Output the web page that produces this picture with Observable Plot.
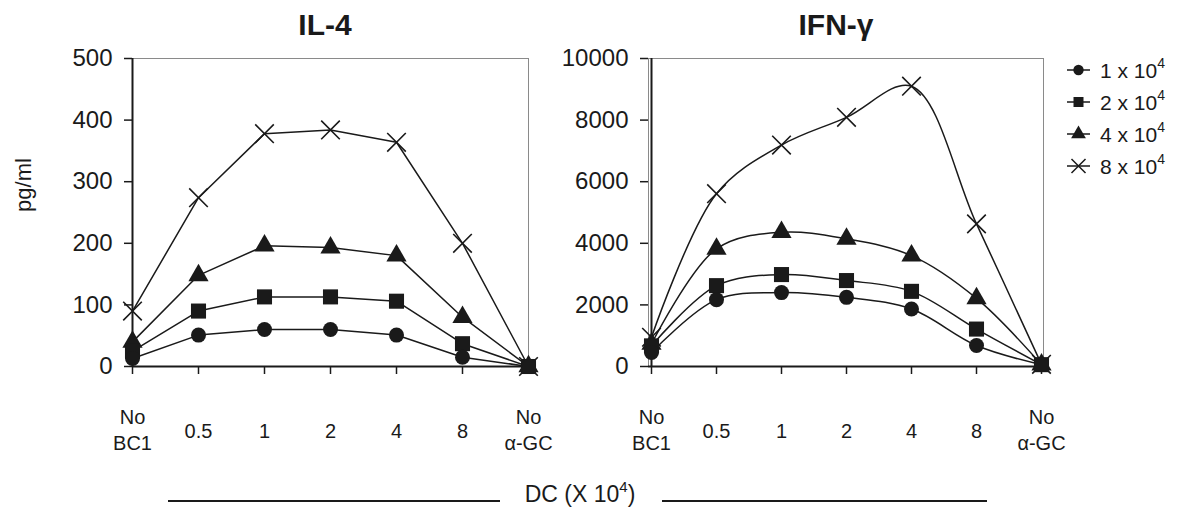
<!DOCTYPE html>
<html>
<head>
<meta charset="utf-8">
<script src="https://cdn.jsdelivr.net/npm/d3@7"></script>
<script src="https://cdn.jsdelivr.net/npm/@observablehq/plot@0.6"></script>
<style>
  html, body { margin: 0; padding: 0; background: #fff; }
  #wrap { position: relative; width: 1189px; height: 510px; overflow: hidden; font-family: "Liberation Sans", Arial, sans-serif; color: #1a1a1a; }
  .panel { position: absolute; top: 0; }
  #overlay { position: absolute; left: 0; top: 0; pointer-events: none; }
</style>
</head>
<body>
<div id="wrap"></div>
<script>
// ---------- data ----------
const categories = ["No BC1", "0.5", "1", "2", "4", "8", "No α-GC"];
const tickLabels = ["No\nBC1", "0.5", "1", "2", "4", "8", "No\nα-GC"];
const seriesBase = ["1 x 10", "2 x 10", "4 x 10", "8 x 10"];
const seriesExp = "4";
const seriesSymbols = ["circle", "square", "triangle", "times"];
const panelTitles = ["IL-4", "IFN-γ"];
const yLabel = "pg/ml";
const xLabelBase = "DC (X 10";
const il4Ticks = [0, 100, 200, 300, 400, 500];
const ifnTicks = [0, 2000, 4000, 6000, 8000, 10000];

// IL-4 (pg/ml)
const il4_1 = [13, 51, 60, 60, 51, 15, 0];
const il4_2 = [25, 90, 113, 113, 106, 37, 0];
const il4_4 = [40, 148, 196, 193, 180, 80, 0];
const il4_8 = [90, 274, 378, 384, 364, 200, 0];
// IFN-γ (pg/ml)
const ifn_1 = [455, 2170, 2400, 2245, 1865, 680, 60];
const ifn_2 = [670, 2625, 2985, 2790, 2440, 1215, 60];
const ifn_4 = [730, 3820, 4360, 4145, 3600, 2210, 60];
const ifn_8 = [950, 5610, 7190, 8090, 9100, 4630, 70];

// ---------- styles ----------
const ink = "#1a1a1a";
const markerR = [7.5, 8.5, 7.5, 8.5];
const font = "Liberation Sans, Arial, sans-serif";

function panel({values, yMax, ticks, width, marginLeft, marginRight, curve}) {
  const rows = [];
  values.forEach((arr, si) => arr.forEach((v, ci) => rows.push({s: si, cat: categories[ci], v})));
  const labels = categories.map((c, i) => ({cat: c, label: tickLabels[i], two: tickLabels[i].includes("\n")}));
  const marks = [
    Plot.frame({stroke: "#8a8a8a", strokeWidth: 1}),
    Plot.axisY({ticks, tickSize: 8, tickPadding: 12, tickFormat: d => String(d), label: null, strokeWidth: 1.5}),
    Plot.axisX({tickSize: 8, tickFormat: () => "", label: null, strokeWidth: 1.5}),
    Plot.ruleY([0], {stroke: ink, strokeWidth: 2}),
    Plot.ruleX([categories[0]], {stroke: ink, strokeWidth: 2}),
    Plot.text(labels.filter(d => d.two), {x: "cat", y: () => 0, text: "label", lineAnchor: "top", dy: 39, lineHeight: 1.3, fontSize: 20}),
    Plot.text(labels.filter(d => !d.two), {x: "cat", y: () => 0, text: "label", lineAnchor: "middle", dy: 65.5, fontSize: 20})
  ];
  for (let si = values.length - 1; si >= 0; si--) {
    const d = rows.filter(r => r.s === si);
    marks.push(Plot.line(d, {x: "cat", y: "v", curve, stroke: ink, strokeWidth: 1.5}));
  }
  for (let si = values.length - 1; si >= 0; si--) {
    const d = rows.filter(r => r.s === si);
    const stroked = seriesSymbols[si] === "times";
    marks.push(Plot.dot(d, {
      x: "cat", y: "v", symbol: seriesSymbols[si], r: markerR[si],
      fill: stroked ? "none" : ink, stroke: stroked ? ink : "none", strokeWidth: 1.6
    }));
  }
  return Plot.plot({
    width, height: 460,
    marginLeft, marginRight, marginTop: 58, marginBottom: 94,
    x: {type: "point", domain: categories, padding: 0},
    y: {domain: [0, yMax]},
    style: {fontFamily: font, fontSize: "24px", color: ink, background: "transparent", overflow: "visible"},
    marks
  });
}

const wrap = document.getElementById("wrap");

const left = panel({values: [il4_1, il4_2, il4_4, il4_8], yMax: 500, ticks: il4Ticks, width: 560, marginLeft: 132, marginRight: 32, curve: "linear"});
left.classList.add("panel");
left.style.left = "0px";
wrap.appendChild(left);

const right = panel({values: [ifn_1, ifn_2, ifn_4, ifn_8], yMax: 10000, ticks: ifnTicks, width: 500, marginLeft: 88, marginRight: 17, curve: "catmull-rom"});
right.classList.add("panel");
right.style.left = "560px";
wrap.appendChild(right);

// ---------- overlay: titles, axis label, legend ----------
const svg = d3.create("svg").attr("id", "overlay").attr("width", 1189).attr("height", 510)
  .style("font-family", font).attr("fill", ink);

svg.append("text").attr("x", 325).attr("y", 35).attr("text-anchor", "middle")
  .attr("font-size", 30).attr("font-weight", "bold").text(panelTitles[0]);
svg.append("text").attr("x", 836).attr("y", 35).attr("text-anchor", "middle")
  .attr("font-size", 30).attr("font-weight", "bold").text(panelTitles[1]);

svg.append("text").attr("transform", "translate(23,185) rotate(-90)")
  .attr("text-anchor", "middle").attr("dominant-baseline", "central")
  .attr("font-size", 22).text(yLabel);

// bottom label with side rules
svg.append("line").attr("x1", 168).attr("x2", 500).attr("y1", 501).attr("y2", 501).attr("stroke", ink).attr("stroke-width", 2);
svg.append("line").attr("x1", 662).attr("x2", 987).attr("y1", 501).attr("y2", 501).attr("stroke", ink).attr("stroke-width", 2);
const dc = svg.append("text").attr("x", 580).attr("y", 502).attr("text-anchor", "middle").attr("font-size", 23);
dc.append("tspan").text(xLabelBase);
dc.append("tspan").attr("font-size", 15).attr("dy", -10).text(seriesExp);
dc.append("tspan").attr("dy", 10).text(")");

// legend
const legendSym = {circle: d3.symbolCircle, square: d3.symbolSquare, triangle: d3.symbolTriangle, times: d3.symbolTimes};
const legendSize = {circle: 85, square: 100, triangle: 95, times: 130};
seriesBase.forEach((b, i) => {
  const cy = 70 + i * 32;
  const g = svg.append("g");
  g.append("line").attr("x1", 1067).attr("x2", 1090).attr("y1", cy).attr("y2", cy).attr("stroke", ink).attr("stroke-width", 1.5);
  const sym = seriesSymbols[i];
  const p = g.append("path").attr("transform", `translate(1078.5,${cy})`)
    .attr("d", d3.symbol(legendSym[sym], legendSize[sym])());
  if (sym === "times") p.attr("fill", "none").attr("stroke", ink).attr("stroke-width", 1.5);
  else p.attr("fill", ink);
  const t = g.append("text").attr("x", 1100).attr("y", cy + 7.5).attr("font-size", 21);
  t.append("tspan").text(b);
  t.append("tspan").attr("font-size", 14).attr("dy", -10).text(seriesExp);
});

wrap.appendChild(svg.node());
</script>
</body>
</html>
